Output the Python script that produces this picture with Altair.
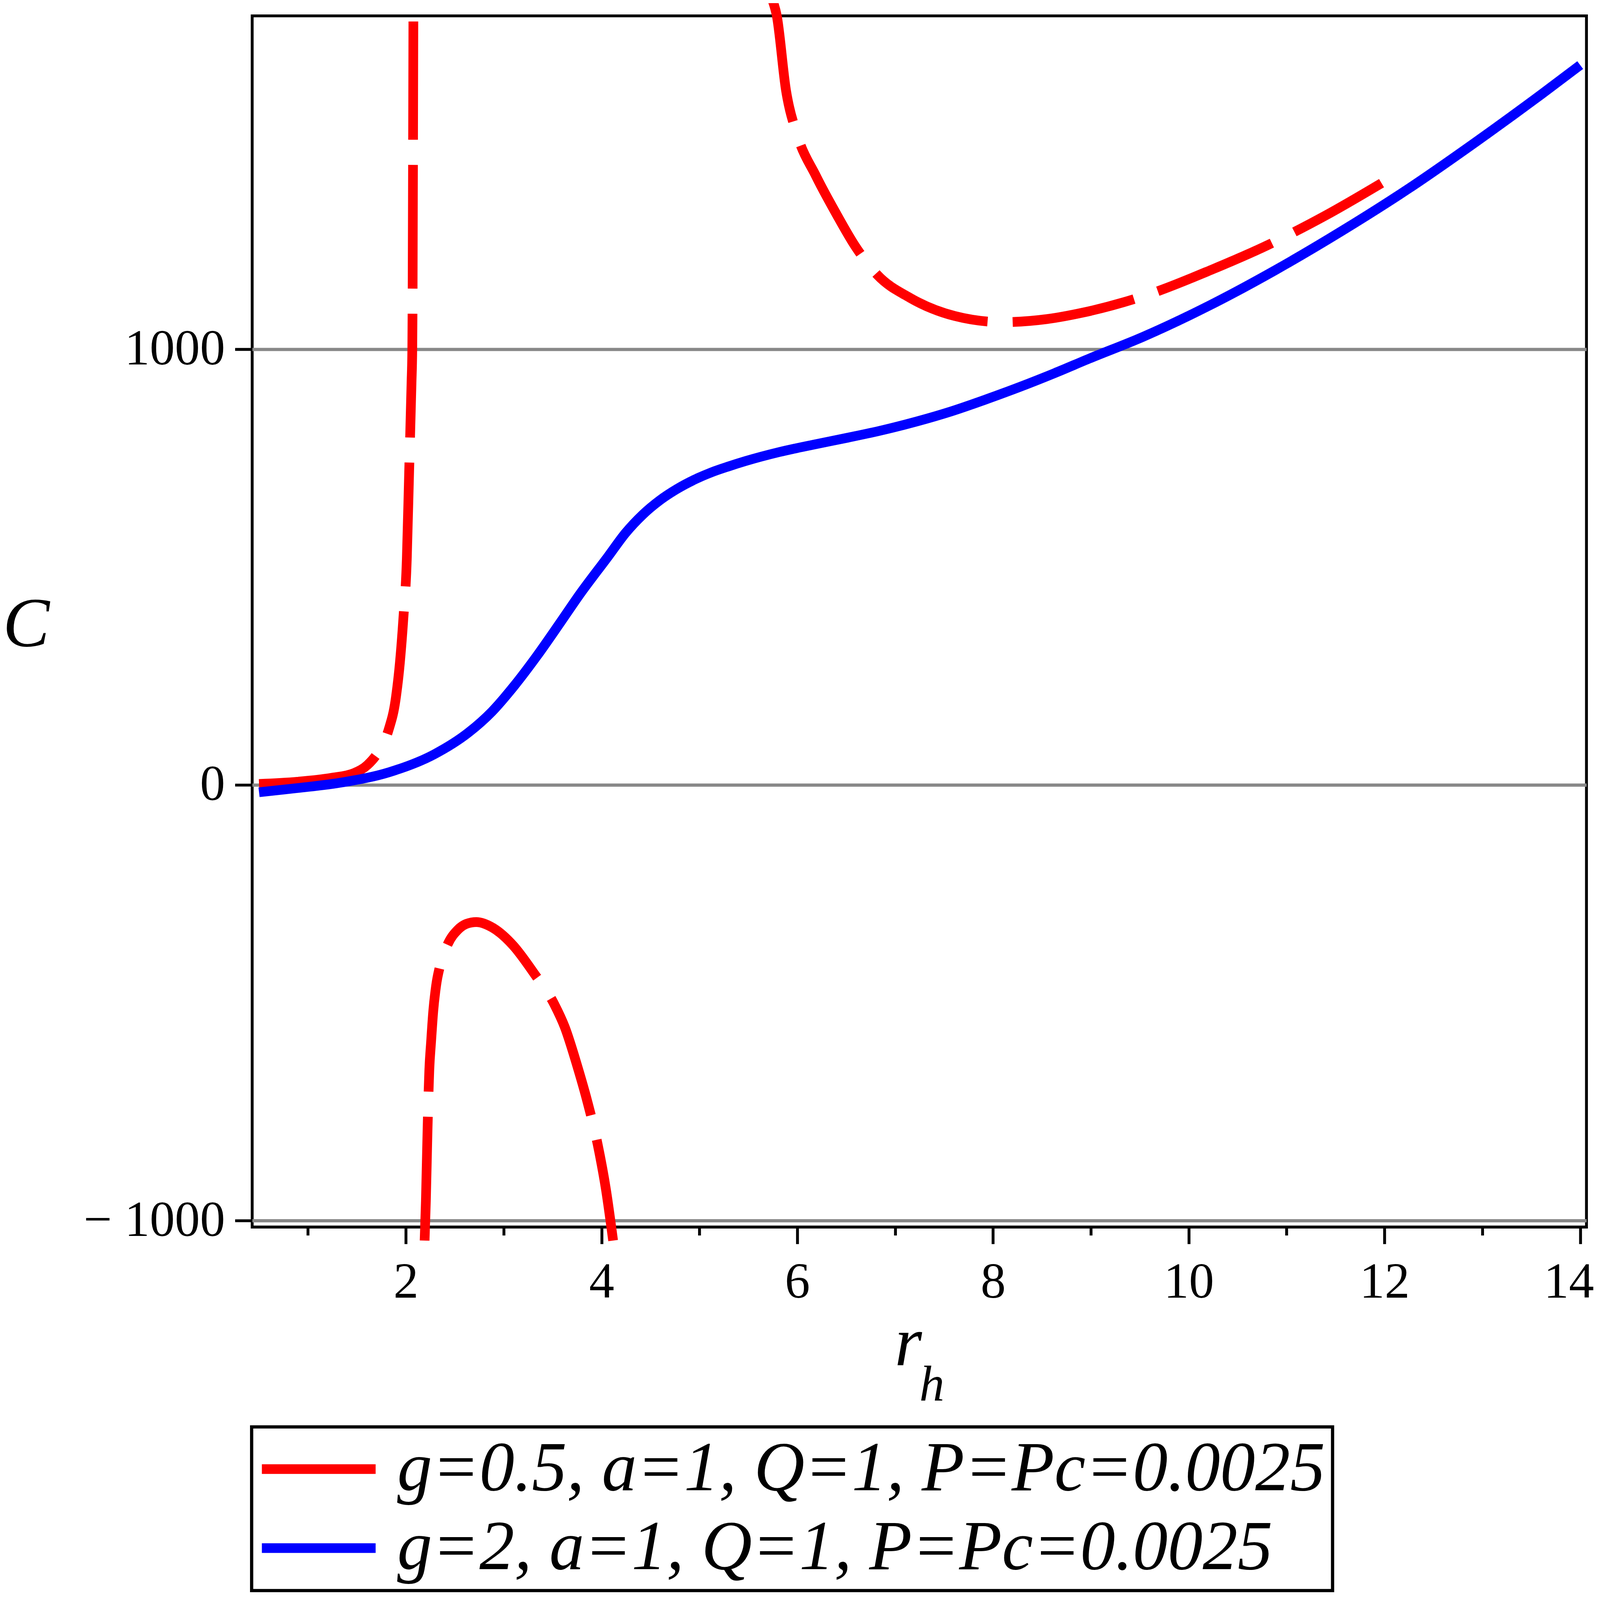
import altair as alt
import pandas as pd

RED_LABEL = "g=0.5, a=1, Q=1, P=Pc=0.0025"
BLUE_LABEL = "g=2, a=1, Q=1, P=Pc=0.0025"

# red curve (g=0.5), three branches separated by divergences
red1_r = [0.5, 0.89, 1.24, 1.47, 1.61, 1.73, 1.825, 1.895, 1.94, 1.975, 2.01, 2.034, 2.058, 2.066, 2.077]
red1_c = [2, 7, 16, 27, 46, 80, 127, 195, 282, 383, 518, 720, 922, 1000, 1752]

red2_r = [2.192, 2.205, 2.221, 2.24, 2.258, 2.28, 2.31, 2.35, 2.43, 2.53, 2.62, 2.72, 2.888, 3.098, 3.308,
          3.518, 3.624, 3.75, 3.855, 3.96, 4.045, 4.118]
red2_c = [-1046, -955, -799, -654, -590, -520, -460, -415, -365, -333, -319, -315, -328, -369, -432,
          -504, -556, -644, -727, -825, -929, -1046]

red3_r = [5.745, 5.79, 5.884, 6.0, 6.19, 6.40, 6.59, 6.82, 7.15, 7.61, 8.10, 8.55, 8.92, 9.62, 10.23,
          10.79, 11.40, 11.97]
red3_c = [1802, 1766, 1595, 1491, 1398, 1310, 1237, 1170, 1118, 1076, 1062, 1069, 1084, 1128, 1182,
          1237, 1307, 1381]

# blue curve (g=2)
blue_r = [0.5, 0.89, 1.36, 1.83, 2.29, 2.64, 2.88, 3.11, 3.34, 3.58, 3.77, 4.07, 4.245, 4.42, 4.595,
          4.77, 4.945, 5.12, 5.30, 5.47, 5.82, 6.17, 6.52, 6.87, 7.22, 7.57, 7.92, 8.27, 8.63, 8.98,
          9.53, 10.21, 10.89, 11.57, 12.25, 12.93, 13.61, 14.0]
blue_c = [-17, -7.5, 6, 29, 70, 120, 168, 228, 296, 373, 435, 525, 578, 620, 653,
          679, 700, 717, 731, 743, 764, 781, 797, 814, 834, 857, 884, 913, 945, 978,
          1028, 1100, 1182, 1272, 1369, 1475, 1586, 1652]

x_major = [2, 4, 6, 8, 10, 12, 14]
x_minor = [1, 3, 5, 7, 9, 11, 13]
y_ticks = [-1000, 0, 1000]

rows = []
for name, xs, cs in [("a", red1_r, red1_c), ("b", red2_r, red2_c), ("c", red3_r, red3_c)]:
    for i, (x, c) in enumerate(zip(xs, cs)):
        rows.append({"r": x, "C": c, "series": RED_LABEL, "branch": name, "i": i})
df_red = pd.DataFrame(rows)
df_blue = pd.DataFrame({"r": blue_r, "C": blue_c, "series": BLUE_LABEL,
                        "i": list(range(len(blue_r)))})

FONT = "Liberation Serif"

xscale = alt.Scale(domain=[0.43, 14.064], nice=False, zero=False)
yscale = alt.Scale(domain=[-1015, 1765], nice=False, zero=False)
cscale = alt.Scale(domain=[RED_LABEL, BLUE_LABEL], range=["#ff0000", "#0000ff"])

legend = alt.Legend(
    title=None, orient="none", legendX=-1.5, legendY=3932, padding=20, rowPadding=24,
    symbolType="M-3,0H3", symbolSize=11165, symbolStrokeWidth=27, symbolDash=[1, 0],
    symbolOffset=69.5, labelOffset=121, labelFont=FONT, labelFontStyle="italic",
    labelFontSize=195, labelLimit=5000, labelColor="black", strokeColor="black",
)

yaxis = alt.Axis(
    values=y_ticks, tickSize=48, tickWidth=8, tickColor="black", domain=False,
    grid=True, gridColor="#888888", gridWidth=9,
    labelFont=FONT, labelFontSize=140, labelColor="black", labelPadding=28, labelLimit=2000,
    labelExpr="datum.value < 0 ? '\u2212 ' + format(-datum.value, 'd') : format(datum.value, 'd')",
    title="C", titleAngle=0, titleX=-630, titleY=1697, titleAlign="center",
    titleBaseline="middle", titleFont=FONT, titleFontStyle="italic", titleFontSize=195,
    titleFontWeight="normal", titleColor="black",
)

xaxis_major = alt.Axis(
    values=x_major, tickSize=47, tickWidth=8, tickColor="black", domain=False, grid=False,
    labelFont=FONT, labelFontSize=140, labelColor="black", labelPadding=38, labelLimit=2000,
    labelFlush=20, labelFlushOffset=38, labelOverlap=False, orient="bottom",
    title="r", titleFont=FONT, titleFontStyle="italic", titleFontSize=195,
    titleFontWeight="normal", titleColor="black", titleX=1828, titleY=385,
    titleAlign="center", titleBaseline="alphabetic",
)

xaxis_minor = alt.Axis(
    values=x_minor, tickSize=23, tickWidth=8, tickColor="black", domain=False, grid=False,
    labels=False, orient="bottom",
)

red = alt.Chart(df_red).mark_line(strokeWidth=27, strokeDash=[345, 70], clip=False,
                                  interpolate="monotone").encode(
    x=alt.X("r:Q", scale=xscale, axis=xaxis_major),
    y=alt.Y("C:Q", scale=yscale, axis=yaxis),
    color=alt.Color("series:N", scale=cscale, legend=legend),
    detail="branch:N",
    order="i:Q",
)

blue = alt.Chart(df_blue).mark_line(strokeWidth=27, clip=True, interpolate="monotone").encode(
    x=alt.X("r:Q", scale=xscale, axis=xaxis_minor, title=None),
    y=alt.Y("C:Q", scale=yscale, axis=yaxis),
    color=alt.Color("series:N", scale=cscale, legend=legend),
    order="i:Q",
)

sub = alt.Chart(pd.DataFrame({"t": ["h"]})).mark_text(
    font=FONT, fontStyle="italic", fontSize=140, align="center", baseline="alphabetic",
    color="black",
).encode(x=alt.value(1894), y=alt.value(3859), text="t:N")

chart = alt.layer(red, blue, sub).resolve_axis(x="independent").properties(
    width=3718, height=3375,
    background="white",
    autosize=alt.AutoSizeParams(type="none"),
    padding={"left": 694, "top": -161, "right": 29, "bottom": 1227},
).configure_view(stroke="black", strokeWidth=8, fill="white").configure_legend(strokeWidth=9)

chart.save("out.html", embed_options={"renderer": "svg", "actions": False})
